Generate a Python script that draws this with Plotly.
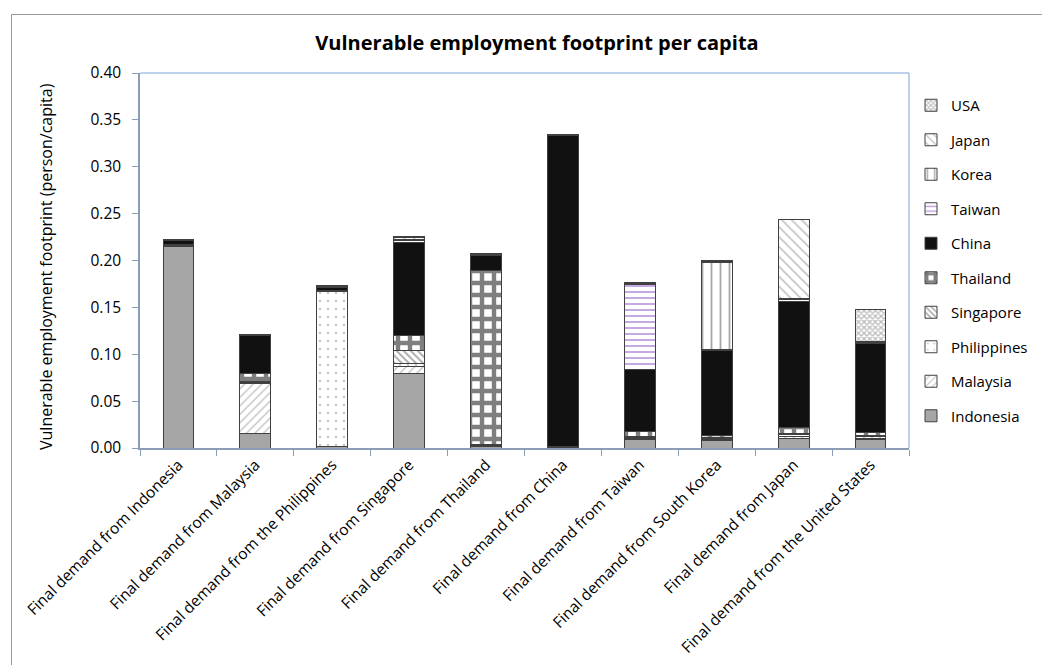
import plotly.graph_objects as go

# Demand-side countries (x categories)
categories = [
    "Final demand from Indonesia",
    "Final demand from Malaysia",
    "Final demand from the Philippines",
    "Final demand from Singapore",
    "Final demand from Thailand",
    "Final demand from China",
    "Final demand from Taiwan",
    "Final demand from South Korea",
    "Final demand from Japan",
    "Final demand from the United States",
]

# Vulnerable employment (person/capita) located in each producing country
indonesia = [0.2145, 0.0160, 0.0015, 0.0790, 0.0020, 0.0003, 0.0090, 0.0075, 0.0105, 0.0090]
malaysia = [0.0005, 0.0530, 0.0005, 0.0080, 0.0010, 0.0002, 0.0015, 0.0012, 0.0020, 0.0015]
philippines = [0.0003, 0.0008, 0.1647, 0.0030, 0.0005, 0.0002, 0.0010, 0.0015, 0.0020, 0.0020]
singapore = [0.0003, 0.0007, 0.0003, 0.0140, 0.0003, 0.0001, 0.0005, 0.0005, 0.0010, 0.0005]
thailand = [0.0010, 0.0085, 0.0012, 0.0160, 0.1860, 0.0003, 0.0060, 0.0030, 0.0060, 0.0040]
china = [0.0050, 0.0405, 0.0030, 0.0995, 0.0160, 0.3325, 0.0660, 0.0900, 0.1350, 0.0940]
taiwan = [0.0003, 0.0005, 0.0005, 0.0020, 0.0005, 0.0003, 0.0900, 0.0015, 0.0015, 0.0010]
korea = [0.0002, 0.0003, 0.0003, 0.0010, 0.0005, 0.0002, 0.0010, 0.0925, 0.0015, 0.0010]
japan = [0.0004, 0.0005, 0.0007, 0.0020, 0.0007, 0.0003, 0.0015, 0.0015, 0.0840, 0.0010]
usa = [0.0002, 0.0002, 0.0003, 0.0010, 0.0003, 0.0001, 0.0005, 0.0003, 0.0005, 0.0335]

y_ticks = [0.00, 0.05, 0.10, 0.15, 0.20, 0.25, 0.30, 0.35, 0.40]


def hatch(shape, fg, size, solidity):
    return dict(color="white",
                pattern=dict(shape=shape, fgcolor=fg, bgcolor="white",
                             size=size, solidity=solidity, fillmode="overlay"))


series = [
    ("Indonesia", indonesia, dict(color="#A6A6A6")),
    ("Malaysia", malaysia, hatch("/", "#808080", 6, 0.22)),
    ("Philippines", philippines, hatch(".", "#909090", 8, 0.08)),
    ("Singapore", singapore, hatch("\\", "#595959", 5, 0.4)),
    ("Thailand", thailand, hatch("+", "#000000", 12, 0.6)),
    ("China", china, dict(color="#111111")),
    ("Taiwan", taiwan, hatch("-", "#7F3FBF", 6, 0.3)),
    ("Korea", korea, hatch("|", "#505050", 9, 0.2)),
    ("Japan", japan, hatch("\\", "#707070", 7, 0.2)),
    ("USA", usa, hatch("x", "#7A7A7A", 4, 0.55)),
]

fig = go.Figure()
n = len(series)
for i, (name, values, marker) in enumerate(series):
    marker = dict(marker)
    marker["line"] = dict(color="#404040", width=1)
    fig.add_trace(go.Bar(
        x=categories, y=values, name=name, marker=marker,
        legendgroup=name, legendrank=n - i,
    ))

W, H = 1042, 665
ML, MR, MT, MB = 140, 133, 73, 217
PW, PH = W - ML - MR, H - MT - MB


def px_x(p):
    return (p - ML) / PW


def px_y(p):
    return (H - MB - p) / PH


AXIS = "#8A9CB6"
FONT = "Open Sans"

fig.update_layout(
    width=W, height=H,
    barmode="stack", bargap=0.6,
    paper_bgcolor="white", plot_bgcolor="white",
    margin=dict(l=ML, r=MR, t=MT, b=MB, autoexpand=False),
    font=dict(family=FONT, size=15, color="#000000"),
    title=dict(text="<b>Vulnerable employment footprint per capita</b>",
               x=px_x(537), xref="paper", xanchor="center",
               y=1 - 43 / H, yanchor="middle",
               font=dict(family=FONT, size=20, color="#000000")),
    legend=dict(traceorder="grouped", tracegroupgap=12,
                x=px_x(911), y=px_y(89), xanchor="left", yanchor="top",
                font=dict(family=FONT, size=15), bgcolor="rgba(0,0,0,0)"),
    showlegend=True,
)

fig.update_xaxes(
    showline=True, linecolor=AXIS, linewidth=1.5,
    ticks="outside", tickson="boundaries", ticklen=6, tickcolor=AXIS,
    tickangle=-45, tickfont=dict(family=FONT, size=15.5),
    showgrid=False, automargin=False,
)
fig.update_yaxes(
    range=[0, 0.40], tickvals=y_ticks, tickformat=".2f",
    showline=True, linecolor=AXIS, linewidth=1.5,
    ticks="outside", ticklen=6, tickcolor=AXIS, ticklabelstandoff=8,
    tickfont=dict(family=FONT, size=15.5),
    showgrid=False, zeroline=False, automargin=False,
)

# Plot-area frame (top and right edges) and the outer chart border
fig.add_shape(type="line", xref="paper", yref="paper", x0=0, x1=1, y0=1, y1=1,
              line=dict(color="#7AA6DA", width=1))
fig.add_shape(type="line", xref="paper", yref="paper", x0=1, x1=1, y0=0, y1=1,
              line=dict(color="#7AA6DA", width=1))
fig.add_shape(type="rect", xref="paper", yref="paper",
              x0=px_x(11.5), x1=px_x(1100), y0=px_y(14.5), y1=px_y(700),
              line=dict(color="#9A9A9A", width=1), layer="below")

fig.add_annotation(
    text="Vulnerable employment footprint (person/capita)",
    xref="paper", yref="paper", x=px_x(46), y=px_y(267), textangle=-90,
    xanchor="center", yanchor="middle", showarrow=False,
    font=dict(family=FONT, size=16, color="#000000"),
)

fig.write_html("out.html")
